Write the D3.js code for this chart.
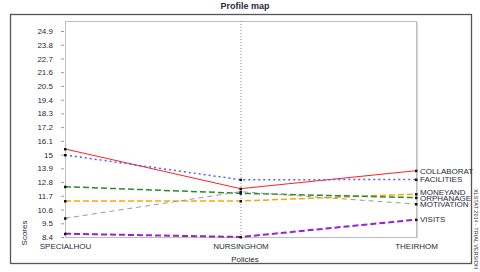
<!DOCTYPE html>
<html>
<head>
<meta charset="utf-8">
<script src="https://cdn.jsdelivr.net/npm/d3@7"></script>
<style>
  body { margin: 0; background: #fff; }
  svg { display: block; }
</style>
</head>
<body>
<svg width="480" height="272"></svg>
<script>
// Data
const categories = ['SPECIALHOU', 'NURSINGHOM', 'THEIRHOM'];
const seriesNames = ['COLLABORAT', 'FACILITIES', 'MONEYAND', 'ORPHANAGE', 'MOTIVATION', 'VISITS'];
const collaborat = [15.45, 12.27, 13.71];
const facilities = [14.97, 12.99, 13.0];
const moneyand = [11.28, 11.28, 11.84];
const orphanage = [12.43, 11.9, 11.55];
const motivation = [9.9, 12.03, 11.04];
const visits = [8.66, 8.4, 9.79];
const yTickLabels = ['8.4', '9.5', '10.6', '11.7', '12.8', '13.9', '15', '16.1',
  '17.2', '18.3', '19.4', '20.5', '21.6', '22.7', '23.8', '24.9'];

// Style values
const fontFamily = 'Liberation Sans, Arial, sans-serif';
const textColor = '#2a2a3a';
const styles = {
  COLLABORAT: { color: '#ff2020', dash: null, width: 1 },
  FACILITIES: { color: '#5a5aff', dash: '2,3', width: 1.5 },
  MONEYAND: { color: '#ffa500', dash: '6,3', width: 1.5 },
  ORPHANAGE: { color: '#2a8a2a', dash: '6,3', width: 1.5 },
  MOTIVATION: { color: '#999999', dash: '5,4', width: 1 },
  VISITS: { color: '#9a20d8', dash: '6,3', width: 2 },
};
// label nudges (px) so the crowded labels sit like the reference
const labelShift = { MONEYAND: -1.5, ORPHANAGE: 1, MOTIVATION: 0.5 };
const values = [collaborat, facilities, moneyand, orphanage, motivation, visits];
const series = seriesNames.map((name, i) => ({ name, values: values[i] }));

const svg = d3.select('svg');
const plot = { left: 65, top: 21, right: 416, bottom: 237 };

// Outer frame
svg.append('rect')
  .attr('x', 10.5).attr('y', 14.5)
  .attr('width', 461).attr('height', 249)
  .attr('fill', 'none')
  .attr('stroke', '#555')
  .attr('stroke-width', 1.3);

// Title
svg.append('text')
  .attr('x', 245).attr('y', 9)
  .attr('text-anchor', 'middle')
  .attr('font-family', fontFamily)
  .attr('font-size', 9)
  .attr('font-weight', 'bold')
  .attr('fill', textColor)
  .text('Profile map');

// Scales
const x = d3.scalePoint()
  .domain(categories)
  .range([plot.left, plot.right])
  .padding(0);
const y = d3.scaleLinear()
  .domain([8.4, 25.7])
  .range([plot.bottom, plot.top]);

// Plot area border with light shadow on the right
svg.append('line')
  .attr('x1', plot.right + 1.5).attr('x2', plot.right + 1.5)
  .attr('y1', plot.top + 1).attr('y2', plot.bottom + 1)
  .attr('stroke', '#d8d8d8').attr('stroke-width', 1);
svg.append('rect')
  .attr('x', plot.left + 0.5).attr('y', plot.top + 0.5)
  .attr('width', plot.right - plot.left).attr('height', plot.bottom - plot.top)
  .attr('fill', 'none')
  .attr('stroke', '#bdbdbd');

// Dotted vertical line at the middle category
svg.append('line')
  .attr('x1', x('NURSINGHOM') + 0.5).attr('x2', x('NURSINGHOM') + 0.5)
  .attr('y1', plot.top).attr('y2', plot.bottom)
  .attr('stroke', '#888')
  .attr('stroke-dasharray', '1,2');

// Y axis
const yAxis = d3.axisLeft(y)
  .tickValues(yTickLabels.map(Number))
  .tickFormat((d, i) => yTickLabels[i])
  .tickSize(3)
  .tickPadding(8);
const yAxisG = svg.append('g')
  .attr('transform', `translate(${plot.left - 1},0)`)
  .call(yAxis);
yAxisG.select('.domain').remove();
yAxisG.selectAll('.tick line').attr('stroke', '#999');
yAxisG.selectAll('.tick text')
  .attr('font-family', fontFamily)
  .attr('font-size', 8)
  .attr('fill', textColor);

// X axis labels
const xAxis = d3.axisBottom(x).tickSize(0).tickPadding(6);
const xAxisG = svg.append('g')
  .attr('transform', `translate(0,${plot.bottom})`)
  .call(xAxis);
xAxisG.select('.domain').remove();
xAxisG.selectAll('.tick text')
  .attr('font-family', fontFamily)
  .attr('font-size', 8)
  .attr('fill', textColor);

// Axis titles
svg.append('text')
  .attr('x', 245).attr('y', 262)
  .attr('text-anchor', 'middle')
  .attr('font-family', fontFamily)
  .attr('font-size', 8)
  .attr('fill', textColor)
  .text('Policies');
svg.append('text')
  .attr('transform', 'translate(27,233) rotate(-90)')
  .attr('text-anchor', 'middle')
  .attr('font-family', fontFamily)
  .attr('font-size', 8)
  .attr('fill', textColor)
  .text('Scores');

// Lines
const line = d3.line()
  .x((d, i) => x(categories[i]))
  .y((d) => y(d));

svg.append('g')
  .selectAll('path')
  .data(series)
  .enter()
  .append('path')
  .attr('d', (d) => line(d.values))
  .attr('fill', 'none')
  .attr('stroke', (d) => styles[d.name].color)
  .attr('stroke-width', (d) => styles[d.name].width)
  .attr('stroke-dasharray', (d) => styles[d.name].dash);

// Point markers
const points = series.flatMap((s) => s.values.map((v, i) => ({ cat: categories[i], v })));
svg.append('g')
  .selectAll('rect')
  .data(points)
  .enter()
  .append('rect')
  .attr('x', (d) => x(d.cat) - 1)
  .attr('y', (d) => y(d.v) - 1)
  .attr('width', 2.5)
  .attr('height', 2.5)
  .attr('fill', '#111');

// Series labels at the right end, clipped by the frame
svg.append('defs')
  .append('clipPath')
  .attr('id', 'labelClip')
  .append('rect')
  .attr('x', 0).attr('y', 0)
  .attr('width', 473).attr('height', 272);

svg.append('g')
  .attr('clip-path', 'url(#labelClip)')
  .selectAll('text')
  .data(series)
  .enter()
  .append('text')
  .attr('x', plot.right + 4)
  .attr('y', (d) => y(d.values[2]) + (labelShift[d.name] || 0))
  .attr('dy', '0.35em')
  .attr('font-family', fontFamily)
  .attr('font-size', 8)
  .attr('fill', textColor)
  .text((d) => d.name);

// Watermark on the right edge
svg.append('text')
  .attr('transform', 'translate(474,229) rotate(90)')
  .attr('text-anchor', 'middle')
  .attr('font-family', fontFamily)
  .attr('font-size', 5.5)
  .attr('fill', '#333')
  .text('XLSTAT 2014 - TRIAL VERSION');
</script>
</body>
</html>
